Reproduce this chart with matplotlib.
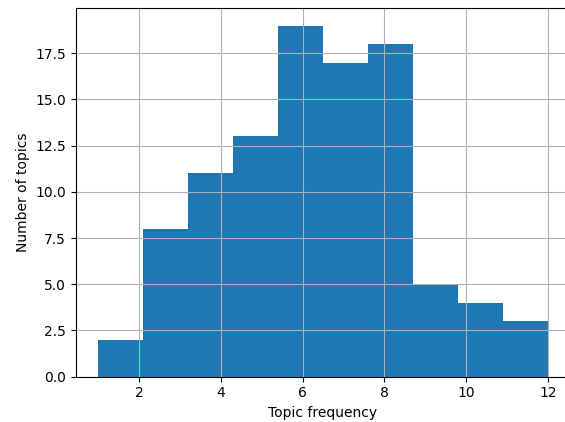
import numpy as np
import matplotlib
matplotlib.use('Agg')
import matplotlib.pyplot as plt

# histogram of topic frequencies, 10 bins between 1 and 12
bin_edges = np.linspace(1, 12, 11)
counts = [2, 8, 11, 13, 19, 17, 18, 5, 4, 3]

def main():
    plt.rcParams['axes.axisbelow'] = 'line'
    fig, ax = plt.subplots(figsize=(5.65, 4.22), dpi=100)
    ax.hist(bin_edges[:-1], bins=bin_edges, weights=counts, color='#1f77b4')
    ax.grid(True)
    ax.set_xlabel('Topic frequency')
    ax.set_ylabel('Number of topics')
    # right spine falls just outside the saved image, as in the original
    fig.subplots_adjust(left=75.6 / 565, right=570.5 / 565,
                        bottom=1 - 376.7 / 422, top=1 - 8 / 422)
    fig.savefig('out.png')

if __name__ == '__main__':
    main()
